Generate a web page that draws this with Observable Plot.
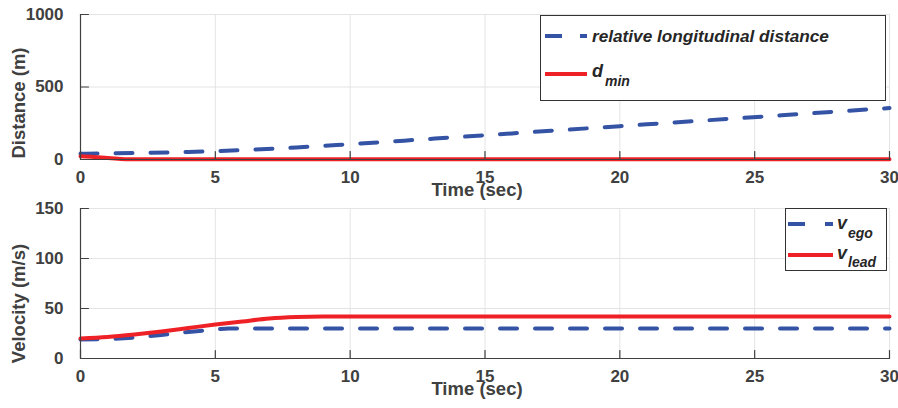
<!DOCTYPE html>
<html>
<head>
<meta charset="utf-8">
<script src="https://cdn.jsdelivr.net/npm/d3@7"></script>
<script src="https://cdn.jsdelivr.net/npm/@observablehq/plot@0.6"></script>
<style>
  html, body { margin: 0; padding: 0; background: #fff; }
  #wrap { position: relative; width: 898px; height: 408px; font-family: "Liberation Sans", Arial, sans-serif; background: #fff; }
  #wrap > div.plot { position: absolute; left: 0; }
  #wrap svg { overflow: visible; }
  .legend { position: absolute; background: #fff; border: 1px solid #333; box-sizing: border-box; }
  .legend svg { display: block; }
</style>
</head>
<body>
<div id="wrap"></div>
<script>
// ---- data ----
const distTime = [0, 2, 4, 6, 8, 10, 12, 14, 16, 18, 20, 22, 24, 26, 28, 30];
const relDistance = [40, 45, 52, 65, 83, 106, 130, 155, 180, 205, 230, 255, 280, 305, 330, 355];
const dminTime = [0, 0.5, 1, 1.5, 2, 30];
const dmin = [22, 18, 10, 4, 1, 1];
const egoTime = [0, 1, 2, 3, 4, 5, 5.5, 6, 30];
const vEgo = [19, 19.5, 21, 23.5, 26.5, 29, 30, 30, 30];
const leadTime = [0, 1, 2, 3, 4, 5, 6, 7, 8, 9, 30];
const vLead = [20, 21.5, 24, 27, 30.5, 34, 37, 40, 41.5, 42, 42];
const xTicks = [0, 5, 10, 15, 20, 25, 30];
const distTicks = [0, 500, 1000];
const velTicks = [0, 50, 100, 150];

const BLUE = "#3553a5";
const RED = "#ee2127";
const AX = "#404040";

const toRows = (xs, ys) => xs.map((x, i) => ({x, y: ys[i]}));

function panel({height, marginTop, marginBottom, yDomain, yTicks, yLabel, labelDy, series}) {
  return Plot.plot({
    width: 898, height, marginTop, marginBottom, marginLeft: 80, marginRight: 9,
    style: {fontFamily: "Liberation Sans, Arial, sans-serif", fontWeight: "bold", fontSize: "17px", color: AX, background: "transparent", overflow: "visible"},
    x: {domain: [0, 30], ticks: xTicks},
    y: {domain: yDomain, ticks: yTicks},
    marks: [
      Plot.gridX(xTicks, {stroke: "#e4e4e4", strokeOpacity: 1}),
      Plot.gridY(yTicks, {stroke: "#e4e4e4", strokeOpacity: 1}),
      ...series.map(s => Plot.line(s.data, {x: "x", y: "y", stroke: s.color, strokeWidth: 4, strokeDasharray: s.dash, curve: "monotone-x"})),
      Plot.ruleX([0], {stroke: AX, strokeWidth: 1.2}),
      Plot.ruleY([yDomain[0]], {stroke: AX, strokeWidth: 1.2}),
      // inward tick marks
      Plot.vector(xTicks, {x: d => d, y: yDomain[0], length: 8, rotate: 0, anchor: "start", stroke: AX, strokeWidth: 1.2, shape: {draw(ctx, l) { ctx.moveTo(0, 0); ctx.lineTo(0, -l); }}}),
      Plot.vector(yTicks, {x: 0, y: d => d, length: 8, rotate: 0, anchor: "start", stroke: AX, strokeWidth: 1.2, shape: {draw(ctx, l) { ctx.moveTo(0, 0); ctx.lineTo(l, 0); }}}),
      Plot.axisX(xTicks, {tickSize: 0, tickPadding: 11.5, fill: AX, label: null, fontSize: 17, tickFormat: d3.format("d")}),
      Plot.axisY(yTicks, {tickSize: 0, tickPadding: 17, fill: AX, label: null, fontSize: 17, tickFormat: d3.format("d")}),
      Plot.text(["Time (sec)"], {frameAnchor: "bottom", textAnchor: "middle", lineAnchor: "middle", dx: -8, dy: 31, fill: AX, fontSize: 18.5, fontWeight: "bold"}),
      Plot.text([yLabel], {frameAnchor: "left", rotate: -90, textAnchor: "middle", lineAnchor: "middle", dx: -61, dy: labelDy, fill: AX, fontSize: 18.5, fontWeight: "bold"})
    ]
  });
}

const wrap = document.getElementById("wrap");

const topPlot = panel({
  height: 204, marginTop: 14, marginBottom: 45,
  yDomain: [0, 1000], yTicks: distTicks, yLabel: "Distance (m)", labelDy: 16,
  series: [
    {data: toRows(distTime, relDistance), color: BLUE, dash: "17,18"},
    {data: toRows(dminTime, dmin), color: RED, dash: null}
  ]
});
const d1 = document.createElement("div"); d1.className = "plot"; d1.style.top = "0px"; d1.appendChild(topPlot); wrap.appendChild(d1);

const botPlot = panel({
  height: 212, marginTop: 12, marginBottom: 50,
  yDomain: [0, 150], yTicks: velTicks, yLabel: "Velocity (m/s)", labelDy: 20,
  series: [
    {data: toRows(egoTime, vEgo), color: BLUE, dash: "17,18"},
    {data: toRows(leadTime, vLead), color: RED, dash: null}
  ]
});
const d2 = document.createElement("div"); d2.className = "plot"; d2.style.top = "196px"; d2.appendChild(botPlot); wrap.appendChild(d2);

// ---- legends ----
function legend(left, topPx, w, h, inner) {
  const d = document.createElement("div");
  d.className = "legend";
  Object.assign(d.style, {left: left + "px", top: topPx + "px", width: w + "px", height: h + "px"});
  d.innerHTML = `<svg width="${w - 2}" height="${h - 2}" style="font-family: Liberation Sans, Arial, sans-serif; font-weight: bold; font-style: italic; fill: #262626">${inner}</svg>`;
  wrap.appendChild(d);
}
legend(540, 15, 346, 86, `
  <line x1="4" x2="46" y1="20" y2="20" stroke="${BLUE}" stroke-width="4" stroke-dasharray="17,18"/>
  <text x="51" y="26" font-size="17.2">relative longitudinal distance</text>
  <line x1="4" x2="46" y1="58" y2="58" stroke="${RED}" stroke-width="4"/>
  <text x="51" y="61" font-size="18">d</text>
  <text x="64" y="70" font-size="14">min</text>
`);
legend(785, 208, 102, 63, `
  <line x1="2" x2="47" y1="15" y2="15" stroke="${BLUE}" stroke-width="4" stroke-dasharray="17,20"/>
  <text x="51" y="20" font-size="18">v</text>
  <text x="62" y="29" font-size="14">ego</text>
  <line x1="2" x2="47" y1="46" y2="46" stroke="${RED}" stroke-width="4"/>
  <text x="51" y="50" font-size="18">v</text>
  <text x="62" y="58" font-size="14">lead</text>
`);
</script>
</body>
</html>
